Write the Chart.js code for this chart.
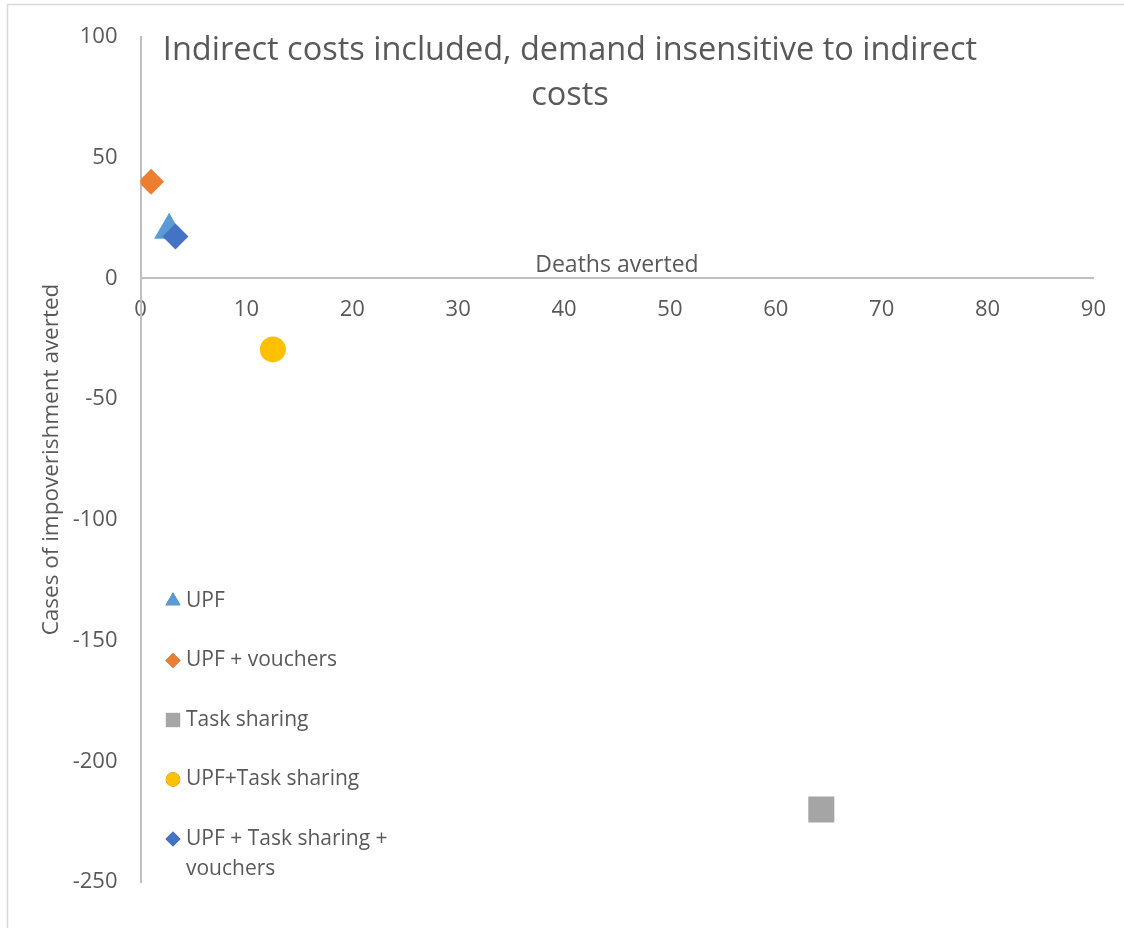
<!DOCTYPE html>
<html>
<head>
<meta charset="utf-8">
<script src="https://cdn.jsdelivr.net/npm/chart.js@4.4.1/dist/chart.umd.min.js"></script>
<style>
  html, body { margin: 0; padding: 0; background: #fff; }
  #wrap { width: 1124px; height: 928px; position: relative; }
</style>
</head>
<body>
<div id="wrap"><canvas id="scatter"></canvas></div>
<script>
// scenario names and results (deaths averted, cases of impoverishment averted)
const scenarios = ["UPF", "UPF + vouchers", "Task sharing", "UPF+Task sharing", "UPF + Task sharing + vouchers"];
const deathsAverted = [2.7, 1.0, 64.3, 12.5, 3.3];
const impoverishmentAverted = [20, 40, -220, -29.4, 17.4];

const xTicks = [0, 10, 20, 30, 40, 50, 60, 70, 80, 90];
const yTicks = [100, 50, 0, -50, -100, -150, -200, -250];

// marker look for each scenario
const markerColors = ["#5B9BD5", "#ED7D31", "#A5A5A5", "#FFC000", "#4472C4"];
const markerShapes = ["triangle", "rectRot", "rect", "circle", "rectRot"];
const markerRadius = [17.3, 13, 18.4, 13, 13];
const legendRadius = [8.7, 7.5, 10, 7.2, 7.5];

const titleLines = ["Indirect costs included, demand insensitive to indirect", "costs"];
const textColor = "#595959";
const axisColor = "#BFBFBF";
const fontFamily = "'Open Sans', 'DejaVu Sans', sans-serif";

const datasets = scenarios.map((name, i) => ({
  label: name,
  data: [{ x: deathsAverted[i], y: impoverishmentAverted[i] }],
  backgroundColor: markerColors[i],
  borderColor: markerColors[i],
  borderWidth: 0,
  pointStyle: markerShapes[i],
  pointRadius: markerRadius[i],
  pointHoverRadius: markerRadius[i],
  order: scenarios.length - i
}));

// title, x-axis caption, frame and the in-plot legend
const decorations = {
  id: "decorations",
  beforeDraw(chart) {
    const ctx = chart.ctx;
    ctx.save();
    ctx.strokeStyle = "#D9D9D9";
    ctx.lineWidth = 1.5;
    ctx.beginPath();
    ctx.moveTo(7.5, chart.height + 2);
    ctx.lineTo(7.5, 4.5);
    ctx.lineTo(chart.width + 2, 4.5);
    ctx.stroke();
    ctx.restore();
  },
  afterDraw(chart) {
    const ctx = chart.ctx;
    const area = chart.chartArea;
    ctx.save();
    ctx.fillStyle = textColor;

    ctx.font = "32.5px " + fontFamily;
    ctx.textAlign = "center";
    ctx.textBaseline = "alphabetic";
    titleLines.forEach((line, i) => ctx.fillText(line, 570, 60 + i * 45));

    ctx.font = "23px " + fontFamily;
    ctx.fillText("Deaths averted", (area.left + area.right) / 2, 272);

    // legend
    ctx.font = "21px " + fontFamily;
    ctx.textAlign = "left";
    ctx.textBaseline = "middle";
    const markerX = 173;
    const textX = 186;
    const maxWidth = 210;
    let y = 601;
    chart.data.datasets.forEach((ds, i) => {
      Chart.helpers.drawPoint(ctx, {
        pointStyle: ds.pointStyle,
        radius: legendRadius[i],
        rotation: 0,
        borderWidth: 0
      }, markerX, y);
      ctx.fillStyle = ds.backgroundColor;
      ctx.fill();
      ctx.fillStyle = textColor;
      const words = ds.label.split(" ");
      let line = "";
      let lineY = y;
      words.forEach(w => {
        const test = line ? line + " " + w : w;
        if (line && ctx.measureText(test).width > maxWidth) {
          ctx.fillText(line, textX, lineY);
          line = w;
          lineY += 30;
        } else {
          line = test;
        }
      });
      ctx.fillText(line, textX, lineY);
      y += 59.5;
    });
    ctx.restore();
  }
};

new Chart(document.getElementById("scatter").getContext("2d"), {
  type: "scatter",
  data: { datasets: datasets },
  options: {
    responsive: true,
    maintainAspectRatio: false,
    animation: false,
    layout: { padding: { top: 37, right: 29, bottom: 46, left: 0 } },
    plugins: {
      legend: { display: false },
      title: { display: false },
      tooltip: { enabled: false }
    },
    scales: {
      x: {
        type: "linear",
        position: { y: 0 },
        min: 0,
        max: 90,
        afterBuildTicks: scale => { scale.ticks = xTicks.map(v => ({ value: v })); },
        grid: { display: false, drawTicks: false },
        border: { color: axisColor, width: 2 },
        ticks: { color: textColor, font: { family: fontFamily, size: 22 }, padding: 18, maxRotation: 0 }
      },
      y: {
        type: "linear",
        position: "left",
        min: -250,
        max: 100,
        afterBuildTicks: scale => { scale.ticks = yTicks.map(v => ({ value: v })); },
        afterFit: scale => { scale.width = 140.5; },
        grid: { display: false, drawTicks: false },
        border: { color: axisColor, width: 2 },
        ticks: { color: textColor, font: { family: fontFamily, size: 22 }, padding: 23 },
        title: {
          display: true,
          text: "Cases of impoverishment averted",
          color: textColor,
          font: { family: fontFamily, size: 22.5 },
          padding: { top: 38, bottom: 0 }
        }
      }
    }
  },
  plugins: [decorations]
});
</script>
</body>
</html>
